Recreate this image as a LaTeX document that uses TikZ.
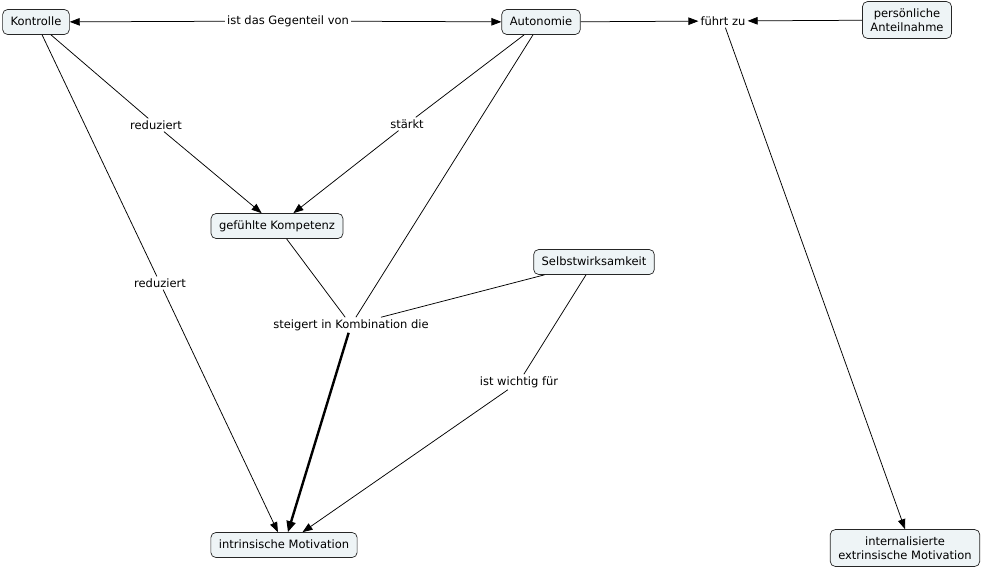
\documentclass[tikz,border=0pt]{standalone}
\usepackage{fontspec}
\setmainfont{DejaVu Sans}
\usepackage{tikz}
\usetikzlibrary{arrows.meta}
\definecolor{cmapfill}{RGB}{238,244,246}

\begin{document}
\begin{tikzpicture}[x=1pt,y=-1pt,
  font=\fontsize{11.5}{14}\selectfont,
  concept/.style={draw=black!85,fill=cmapfill,rounded corners=5pt,line width=0.7pt,
    inner xsep=8pt,inner ysep=7pt,text height=8.5pt,text depth=2.5pt},
  concepttwo/.style={draw=black!85,fill=cmapfill,rounded corners=5pt,line width=0.7pt,
    inner xsep=8pt,inner ysep=7pt,align=center},
  linkword/.style={inner sep=2pt},
  link/.style={line width=0.75pt},
  linkarrow/.style={line width=0.75pt,-{Triangle[length=10pt,width=7.5pt]}},
  linkbold/.style={line width=2.4pt,-{Triangle[length=11pt,width=9pt]}}]
\useasboundingbox (0,0) rectangle (984,571);
% concepts
\node[concept] (kontrolle) at (36,22) {Kontrolle};
\node[concept] (autonomie) at (541,22) {Autonomie};
\node[concepttwo] (anteil) at (907,20) {persönliche\\Anteilnahme};
\node[concept] (kompetenz) at (277,226) {gefühlte Kompetenz};
\node[concept] (selbst) at (594,262) {Selbstwirksamkeit};
\node[concept] (intrinsisch) at (284,545) {intrinsische Motivation};
\node[concepttwo] (extrinsisch) at (905,548) {internalisierte\\extrinsische Motivation};
% linking phrases
\node[linkword] (gegenteil) at (288,21) {ist das Gegenteil von};
\node[linkword] (reduziertA) at (156,125) {reduziert};
\node[linkword] (staerkt) at (407,124) {stärkt};
\node[linkword] (reduziertB) at (160,283) {reduziert};
\node[linkword] (steigert) at (351,325) {steigert in Kombination die};
\node[linkword] (wichtig) at (519,382) {ist wichtig für};
\node[linkword] (fuehrt) at (723,21) {führt zu};
% connections
\draw[linkarrow] (gegenteil) -- (kontrolle);
\draw[linkarrow] (gegenteil) -- (autonomie);
\draw[link] (kontrolle) -- (reduziertA);
\draw[linkarrow] (reduziertA) -- (kompetenz);
\draw[link] (kontrolle) -- (reduziertB);
\draw[linkarrow] (reduziertB) -- (intrinsisch);
\draw[link] (autonomie) -- (staerkt);
\draw[linkarrow] (staerkt) -- (kompetenz);
\draw[link] (autonomie) -- (steigert);
\draw[link] (kompetenz) -- (steigert);
\draw[link] (selbst) -- (steigert);
\draw[linkbold] (steigert) -- (intrinsisch);
\draw[link] (selbst) -- (wichtig);
\draw[linkarrow] (wichtig) -- (intrinsisch);
\draw[linkarrow] (autonomie) -- (fuehrt);
\draw[linkarrow] (anteil) -- (fuehrt);
\draw[linkarrow] (fuehrt) -- (extrinsisch.north);
\end{tikzpicture}
\end{document}
